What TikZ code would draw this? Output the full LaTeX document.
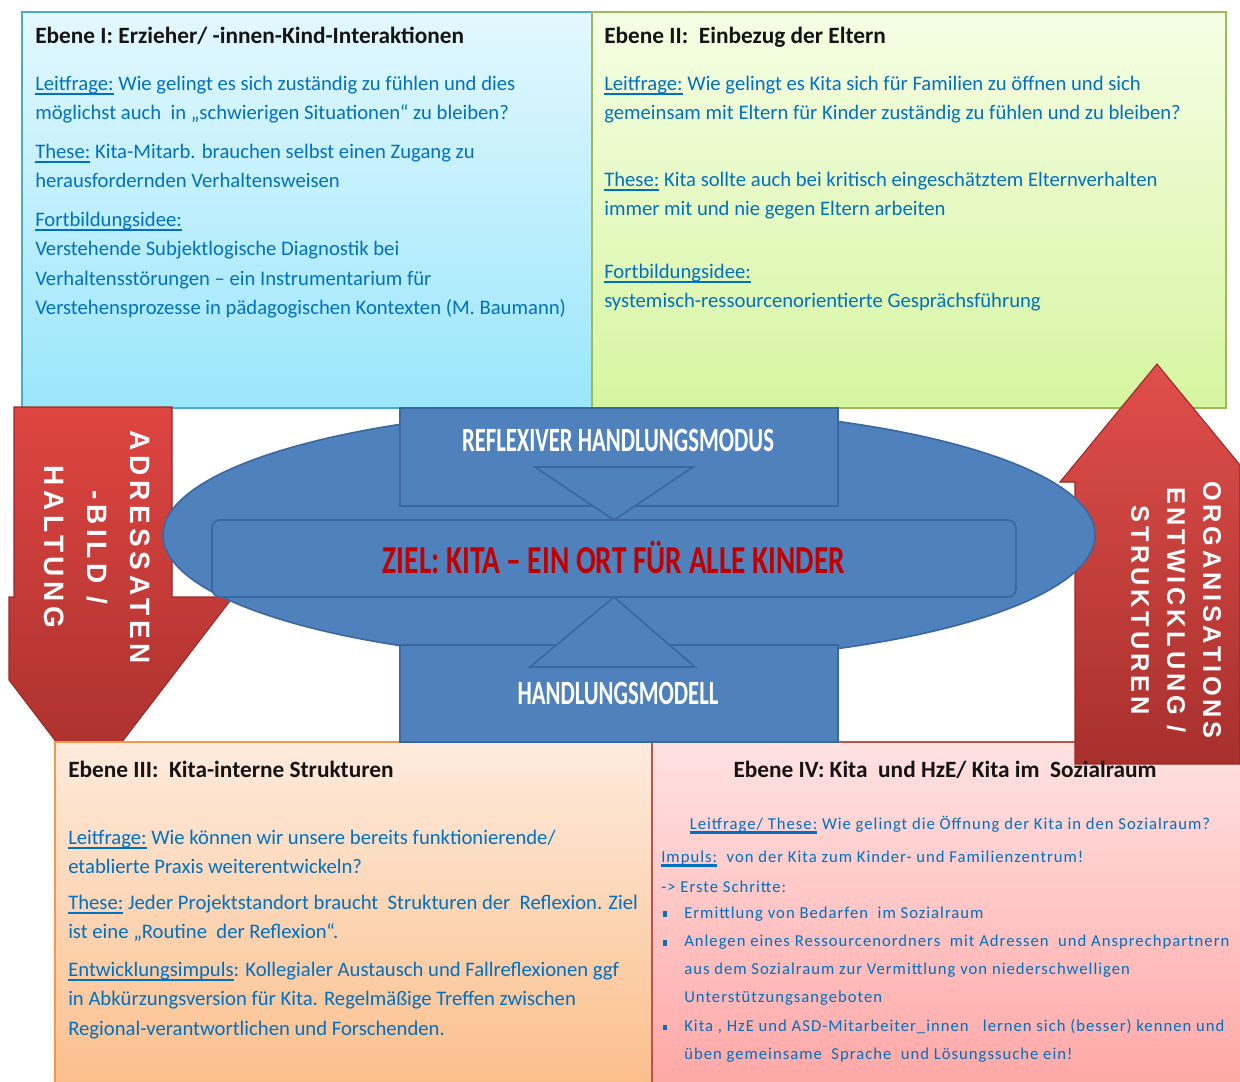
\documentclass[tikz,border=0pt]{standalone}
\usepackage{fontspec}
\setmainfont{Carlito}
\newfontfamily\arrowfont{Liberation Sans}
\newfontfamily\itemfont[LetterSpace=6]{Carlito}
\newsavebox\lblbox
\newcommand\lbl[1]{\sbox\lblbox{#1}\rlap{\rule[-3.4pt]{\wd\lblbox}{1.7pt}}\usebox\lblbox}

\definecolor{textblue}{HTML}{0070C0}
\definecolor{titlecol}{HTML}{141414}
\definecolor{cyanedge}{HTML}{4BACC6}
\definecolor{cyantop}{HTML}{E3F8FE}
\definecolor{cyanbot}{HTML}{9AE6FB}
\definecolor{greenedge}{HTML}{9BBB59}
\definecolor{greentop}{HTML}{F5FEE4}
\definecolor{greenbot}{HTML}{D6F5A0}
\definecolor{orangeedge}{HTML}{F79646}
\definecolor{orangetop}{HTML}{FEEBDD}
\definecolor{orangebot}{HTML}{FBBE8A}
\definecolor{rededge}{HTML}{C0504D}
\definecolor{redtop}{HTML}{FFE2E2}
\definecolor{redbot}{HTML}{FFA7A5}
\definecolor{arrowtop}{HTML}{DE4541}
\definecolor{arrowbot}{HTML}{A8302D}
\definecolor{arrowedge}{HTML}{962A27}
\definecolor{blueshape}{HTML}{4F81BD}
\definecolor{blueedge}{HTML}{3B67A0}
\definecolor{zielred}{HTML}{C00000}

\begin{document}
\begin{tikzpicture}[x=0.75pt, y=-0.75pt,
    ttl/.style={font=\bfseries\fontsize{17.5}{20}\selectfont, text=titlecol, inner sep=0pt},
    txt/.style={font=\fontsize{15.5}{22}\selectfont, text=textblue, inner sep=0pt, align=left, anchor=north west},
    itm/.style={font=\itemfont\fontsize{12.5}{21}\selectfont, text=textblue, inner sep=0pt, align=left},
    blk/.style={fill=blueshape, draw=blueedge, line width=1.2pt},
    redarrow/.style={draw=arrowedge, line width=0.8pt, top color=arrowtop, bottom color=arrowbot},
    arrtext/.style={text=white, rotate=-90, align=center, inner sep=0pt},
    midtext/.style={font=\bfseries\fontsize{17}{19}\selectfont, inner sep=0pt}]
    \useasboundingbox (0,0) rectangle (1240,1082);

    % die vier Ebenen
    \draw[draw=cyanedge, line width=2pt, top color=cyantop, bottom color=cyanbot] (22,12) rectangle (592,408);
    \draw[draw=greenedge, line width=2pt, top color=greentop, bottom color=greenbot] (592,12) rectangle (1226,408);
    \draw[redarrow] (14,407) -- (172,407) -- (172,597) -- (233,597) -- (89,785) -- (9,680) -- (9,597) -- (14,597) -- cycle;
    \draw[draw=orangeedge, line width=2pt, top color=orangetop, bottom color=orangebot] (55,742) rectangle (652,1090);
    \draw[draw=rededge, line width=2pt, top color=redtop, bottom color=redbot] (652,742) rectangle (1248,1090);
    \draw[redarrow, top color=arrowtop!95!white] (1157,364) -- (1240,465) -- (1240,764) -- (1075,764) -- (1075,482) -- (1060,482) -- cycle;

    % Mitte
    \draw[blk] (629,535) ellipse [x radius=466, y radius=127];
    \draw[blk] (400,408) rectangle (838,506);
    \draw[blk] (400,645) rectangle (838,742);
    \draw[blk] (535,467) -- (693,467) -- (614,520) -- cycle;
    \draw[blk] (614,597) -- (695,667) -- (530,667) -- cycle;
    \draw[blk, rounded corners=6pt] (212,520) rectangle (1016,597);

    \node[midtext, text=white] (modus) at (618,440) {\scalebox{1}[1.5]{REFLEXIVER HANDLUNGSMODUS}};
    \node[midtext, text=zielred, font=\bfseries\fontsize{22}{24}\selectfont] (ziel) at (614,558) {\scalebox{1}[1.35]{ZIEL: KITA – EIN ORT FÜR ALLE KINDER}};
    \node[midtext, text=white] (modell) at (618,693) {\scalebox{1}[1.5]{HANDLUNGSMODELL}};

    \node[arrtext, font=\arrowfont\bfseries\addfontfeature{LetterSpace=17}\fontsize{21}{32}\selectfont] (adressat) at (97,547) {ADRESSATEN\\-BILD /\\HALTUNG};
    \node[arrtext, font=\arrowfont\bfseries\addfontfeature{LetterSpace=15}\fontsize{19}{27}\selectfont] (orga) at (1176,610) {ORGANISATIONS\\ENTWICKLUNG /\\STRUKTUREN};

    % Ebene I
    \node[ttl, anchor=base west] (t1) at (35,43) {Ebene I: Erzieher/ -innen-Kind-Interaktionen};
    \node[txt] (q1) at (35,76) {\lbl{Leitfrage:} Wie gelingt es sich zuständig zu fühlen und dies\\möglichst auch~ in „schwierigen Situationen“ zu bleiben?};
    \node[txt] (h1) at (35,144) {\lbl{These:} Kita-Mitarb. brauchen selbst einen Zugang zu\\herausfordernden Verhaltensweisen};
    \node[txt] (f1) at (35,212) {\lbl{Fortbildungsidee:}\\Verstehende Subjektlogische Diagnostik bei\\Verhaltensstörungen – ein Instrumentarium für\\Verstehensprozesse in pädagogischen Kontexten (M. Baumann)};

    % Ebene II
    \node[ttl, anchor=base west] (t2) at (604,43) {Ebene II:~ Einbezug der Eltern};
    \node[txt] (q2) at (604,76) {\lbl{Leitfrage:} Wie gelingt es Kita sich für Familien zu öffnen und sich\\gemeinsam mit Eltern für Kinder zuständig zu fühlen und zu bleiben?};
    \node[txt] (h2) at (604,172) {\lbl{These:} Kita sollte auch bei kritisch eingeschätztem Elternverhalten\\immer mit und nie gegen Eltern arbeiten};
    \node[txt] (f2) at (604,264) {\lbl{Fortbildungsidee:}\\systemisch-ressourcenorientierte Gesprächsführung};

    % Ebene III
    \node[ttl, anchor=base west] (t3) at (68,777) {Ebene III:~ Kita-interne Strukturen};
    \node[txt] (q3) at (68,830) {\lbl{Leitfrage:} Wie können wir unsere bereits funktionierende/\\etablierte Praxis weiterentwickeln?};
    \node[txt] (h3) at (68,895) {\lbl{These:} Jeder Projektstandort braucht~ Strukturen der~ Reflexion. Ziel\\ist eine „Routine~ der Reflexion“.};
    \node[txt] (e3) at (68,962) {\lbl{Entwicklungsimpuls}: Kollegialer Austausch und Fallreflexionen ggf\\in Abkürzungsversion für Kita. Regelmäßige Treffen zwischen\\Regional-verantwortlichen und Forschenden.};

    % Ebene IV
    \node[ttl, anchor=base] (t4) at (945,777) {Ebene IV: Kita~ und HzE/ Kita im~ Sozialraum};
    \node[itm, anchor=base] (q4) at (950,829) {\lbl{Leitfrage/ These:} Wie gelingt die Öffnung der Kita in den Sozialraum?};
    \node[itm, anchor=base west] (i4) at (661,862) {\lbl{Impuls:}~ von der Kita zum Kinder- und Familienzentrum!};
    \node[itm, anchor=base west] (s4) at (661,892) {-> Erste Schritte:};
    \node[itm, anchor=base west] (b1) at (684,918) {\llap{\rule[1pt]{3pt}{4pt}\hspace{13pt}}Ermittlung von Bedarfen~ im Sozialraum};
    \node[itm, anchor=north west] (b2) at (684,935) {\llap{\rule[1pt]{3pt}{4pt}\hspace{13pt}}Anlegen eines Ressourcenordners~ mit Adressen~ und Ansprechpartnern\\aus dem Sozialraum zur Vermittlung von niederschwelligen\\Unterstützungsangeboten};
    \node[itm, anchor=north west] (b3) at (684,1019) {\llap{\rule[1pt]{3pt}{4pt}\hspace{13pt}}Kita , HzE und ASD-Mitarbeiter\_innen~~ lernen sich (besser) kennen und\\üben gemeinsame~ Sprache~ und Lösungssuche ein!};
\end{tikzpicture}
\end{document}
